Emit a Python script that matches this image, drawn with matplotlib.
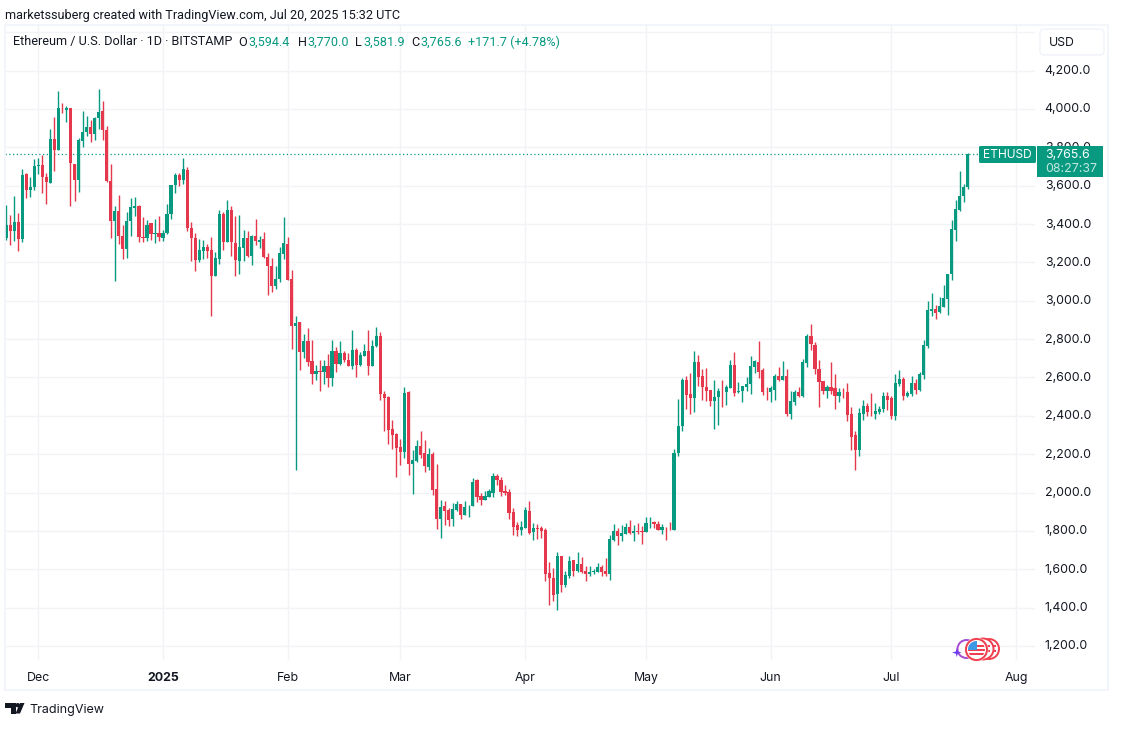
import matplotlib
matplotlib.use("Agg")
import matplotlib.pyplot as plt
import matplotlib.dates as mdates
from matplotlib.patches import Circle, FancyBboxPatch, Polygon, Rectangle
from matplotlib.transforms import ScaledTranslation
import pandas as pd

W, H = 1124, 730
plt.rcParams['font.family'] = ['Inter', 'DejaVu Sans']

# daily candles, first one is 2024-11-23
opens = [
    3327, 3397, 3362, 3413, 3322, 3663, 3576, 3592, 3705, 3710,
    3645, 3612, 3844, 3784, 4002, 3993, 4007, 3715, 3628, 3831,
    3878, 3908, 3868, 3955, 3991, 3892, 3626, 3418, 3470, 3340,
    3272, 3414, 3486, 3496, 3329, 3326, 3404, 3348, 3355, 3326,
    3352, 3451, 3605, 3658, 3632, 3684, 3380, 3327, 3214, 3261,
    3282, 3264, 3131, 3219, 3454, 3304, 3475, 3301, 3205, 3273,
    3327, 3235, 3339, 3304, 3322, 3230, 3183, 3075, 3113, 3244,
    3297, 3113, 2866, 2887, 2731, 2792, 2686, 2620, 2634, 2627,
    2661, 2599, 2740, 2672, 2727, 2693, 2658, 2745, 2667, 2714,
    2738, 2658, 2762, 2818, 2515, 2498, 2331, 2306, 2237, 2213,
    2522, 2147, 2164, 2244, 2206, 2134, 2202, 2018, 1863, 1928,
    1910, 1863, 1910, 1940, 1884, 1928, 1928, 2063, 1984, 1962,
    1979, 1997, 2084, 2066, 2009, 2005, 1899, 1830, 1805, 1816,
    1905, 1792, 1816, 1816, 1805, 1580, 1555, 1472, 1670, 1519,
    1566, 1646, 1592, 1628, 1592, 1576, 1586, 1588, 1613, 1592,
    1576, 1753, 1797, 1771, 1786, 1819, 1790, 1799, 1799, 1792,
    1844, 1844, 1837, 1805, 1821, 1821, 1805, 2206, 2345, 2588,
    2515, 2491, 2680, 2609, 2550, 2536, 2475, 2496, 2531, 2522,
    2546, 2666, 2524, 2527, 2550, 2564, 2657, 2682, 2637, 2531,
    2525, 2536, 2609, 2588, 2609, 2411, 2473, 2524, 2505, 2678,
    2817, 2770, 2644, 2583, 2531, 2550, 2545, 2505, 2525, 2525,
    2411, 2301, 2223, 2411, 2452, 2421, 2412, 2421, 2435, 2505,
    2492, 2400, 2565, 2593, 2505, 2515, 2571, 2536, 2614, 2765,
    2948, 2958, 2939, 2970, 3010, 3139, 3367, 3474, 3544, 3594.4,
]
highs = [
    3501, 3449, 3548, 3458, 3689, 3665, 3645, 3741, 3745, 3762,
    3666, 3896, 3958, 4096, 4031, 4017, 4007, 3715, 3849, 3988,
    3965, 3944, 3958, 4106, 4043, 3910, 3715, 3496, 3553, 3397,
    3463, 3538, 3543, 3501, 3437, 3423, 3406, 3426, 3444, 3371,
    3506, 3604, 3666, 3666, 3745, 3696, 3410, 3353, 3322, 3318,
    3297, 3332, 3256, 3475, 3461, 3527, 3496, 3443, 3449, 3370,
    3363, 3344, 3428, 3336, 3360, 3249, 3223, 3183, 3280, 3436,
    3332, 3162, 2922, 2891, 2828, 2859, 2797, 2665, 2693, 2693,
    2724, 2797, 2759, 2792, 2738, 2727, 2849, 2755, 2733, 2776,
    2846, 2797, 2865, 2839, 2531, 2505, 2379, 2313, 2279, 2550,
    2527, 2223, 2272, 2322, 2272, 2232, 2214, 2150, 1962, 1957,
    1919, 1948, 1954, 1940, 1954, 1936, 2074, 2070, 2000, 2009,
    2019, 2101, 2097, 2080, 2040, 2018, 1918, 1849, 1852, 1927,
    1957, 1840, 1837, 1826, 1814, 1637, 1606, 1689, 1670, 1592,
    1670, 1649, 1689, 1663, 1618, 1618, 1600, 1632, 1623, 1658,
    1779, 1837, 1814, 1832, 1840, 1858, 1832, 1840, 1826, 1872,
    1872, 1852, 1852, 1837, 1823, 1849, 2226, 2487, 2597, 2609,
    2623, 2737, 2717, 2644, 2649, 2536, 2588, 2545, 2588, 2562,
    2692, 2734, 2576, 2557, 2605, 2713, 2692, 2791, 2649, 2550,
    2553, 2619, 2657, 2684, 2644, 2531, 2536, 2550, 2696, 2828,
    2880, 2784, 2689, 2583, 2562, 2682, 2619, 2545, 2545, 2571,
    2445, 2319, 2440, 2480, 2466, 2518, 2466, 2452, 2524, 2524,
    2505, 2619, 2640, 2602, 2532, 2609, 2593, 2628, 2797, 2998,
    3040, 2979, 3019, 3082, 3139, 3422, 3523, 3678, 3610, 3770.0,
]
lows = [
    3319, 3289, 3310, 3258, 3305, 3534, 3541, 3576, 3663, 3562,
    3503, 3612, 3675, 3784, 3979, 3930, 3492, 3519, 3565, 3800,
    3857, 3826, 3837, 3896, 3840, 3618, 3326, 3101, 3296, 3220,
    3223, 3336, 3440, 3305, 3305, 3313, 3319, 3301, 3310, 3313,
    3350, 3426, 3562, 3597, 3611, 3362, 3209, 3157, 3200, 3218,
    3223, 2922, 3127, 3190, 3266, 3304, 3231, 3127, 3141, 3205,
    3226, 3186, 3292, 3273, 3224, 3028, 3044, 3061, 3096, 3218,
    3106, 2750, 2119, 2637, 2703, 2658, 2567, 2588, 2528, 2567,
    2550, 2554, 2627, 2667, 2682, 2658, 2644, 2602, 2658, 2710,
    2614, 2658, 2759, 2484, 2319, 2254, 2226, 2079, 2145, 2178,
    2093, 1994, 2157, 2180, 2105, 2115, 1988, 1811, 1761, 1832,
    1827, 1827, 1905, 1863, 1881, 1875, 1928, 1953, 1936, 1962,
    1979, 1976, 2040, 1984, 1988, 1863, 1779, 1771, 1779, 1816,
    1785, 1753, 1757, 1762, 1541, 1414, 1437, 1388, 1479, 1510,
    1553, 1566, 1588, 1583, 1541, 1567, 1576, 1586, 1567, 1567,
    1545, 1748, 1727, 1745, 1783, 1783, 1748, 1783, 1732, 1792,
    1816, 1816, 1805, 1785, 1753, 1805, 1805, 2188, 2319, 2437,
    2411, 2418, 2553, 2480, 2475, 2449, 2329, 2353, 2444, 2458,
    2546, 2501, 2518, 2470, 2527, 2515, 2623, 2597, 2510, 2484,
    2470, 2480, 2584, 2588, 2397, 2386, 2458, 2498, 2498, 2657,
    2744, 2619, 2444, 2515, 2491, 2515, 2437, 2470, 2491, 2371,
    2220, 2119, 2193, 2379, 2400, 2397, 2386, 2411, 2418, 2432,
    2386, 2376, 2557, 2480, 2496, 2505, 2515, 2527, 2593, 2755,
    2918, 2906, 2936, 2965, 2927, 3106, 3313, 3466, 3513, 3581.9,
]
closes = [
    3397, 3362, 3411, 3322, 3658, 3576, 3593, 3705, 3708, 3644,
    3618, 3844, 3788, 4007, 3998, 4007, 3718, 3628, 3837, 3882,
    3908, 3868, 3955, 3984, 3889, 3623, 3414, 3470, 3336, 3272,
    3418, 3491, 3496, 3331, 3326, 3397, 3347, 3355, 3331, 3355,
    3453, 3604, 3658, 3632, 3689, 3380, 3327, 3214, 3266, 3282,
    3261, 3131, 3223, 3454, 3304, 3475, 3304, 3211, 3282, 3327,
    3235, 3339, 3310, 3318, 3226, 3179, 3075, 3115, 3249, 3301,
    3110, 2866, 2884, 2731, 2792, 2682, 2620, 2635, 2630, 2661,
    2599, 2740, 2672, 2727, 2689, 2658, 2745, 2667, 2719, 2738,
    2658, 2766, 2818, 2512, 2491, 2327, 2301, 2233, 2213, 2518,
    2147, 2169, 2244, 2197, 2140, 2202, 2014, 1863, 1924, 1905,
    1858, 1914, 1940, 1884, 1926, 1931, 2056, 1976, 1962, 1983,
    2009, 2084, 2063, 2002, 1997, 1896, 1823, 1805, 1819, 1910,
    1788, 1816, 1812, 1800, 1576, 1552, 1467, 1670, 1519, 1571,
    1644, 1592, 1628, 1588, 1576, 1586, 1592, 1611, 1586, 1574,
    1759, 1799, 1771, 1790, 1819, 1790, 1799, 1795, 1795, 1840,
    1847, 1835, 1805, 1823, 1818, 1818, 2206, 2348, 2588, 2510,
    2491, 2682, 2605, 2548, 2532, 2475, 2498, 2531, 2527, 2550,
    2666, 2518, 2531, 2553, 2567, 2661, 2684, 2631, 2525, 2527,
    2543, 2609, 2588, 2609, 2411, 2477, 2525, 2501, 2682, 2817,
    2772, 2644, 2579, 2532, 2550, 2527, 2505, 2525, 2522, 2405,
    2292, 2223, 2414, 2452, 2418, 2418, 2426, 2435, 2505, 2484,
    2400, 2571, 2593, 2505, 2518, 2571, 2536, 2619, 2770, 2951,
    2958, 2936, 2974, 3014, 3139, 3375, 3480, 3547, 3594, 3765.6,
]
start_date = "2024-11-23"
y_ticks = [1200, 1400, 1600, 1800, 2000, 2200, 2400, 2600, 2800, 3000,
           3200, 3400, 3600, 3800, 4000, 4200, 4400]
x_tick_dates = ["2024-12-01", "2025-01-01", "2025-02-01", "2025-03-01", "2025-04-01",
                "2025-05-01", "2025-06-01", "2025-07-01", "2025-08-01"]
x_tick_labels = ["Dec", "2025", "Feb", "Mar", "Apr", "May", "Jun", "Jul", "Aug"]
last_price = 3765.6

UP = "#089981"
DOWN = "#e5384c"
GRID = "#f2f3f7"
INK = "#131722"
FS = 8.9
HEAD = "Roboto"
HEAD_FS = 9.05

fig = plt.figure(figsize=(W / 100, H / 100), dpi=100, facecolor="white")

# price pane spans px 5..1035 horizontally, 25..660 vertically
ax = fig.add_axes([5 / W, 1 - 660 / H, 1030 / W, 635 / H])
dates = mdates.date2num(pd.date_range(start_date, periods=len(opens), freq="D"))
colors = [UP if c >= o else DOWN for o, c in zip(opens, closes)]

ax.vlines(dates, lows, highs, colors=colors, linewidth=1.0, zorder=3)
bottoms = [min(o, c) for o, c in zip(opens, closes)]
sizes = [max(abs(c - o), 4) for o, c in zip(opens, closes)]
ax.bar(dates, sizes, bottom=bottoms, width=0.8, color=colors, linewidth=0, zorder=4)

ax.axhline(last_price, color=UP, lw=0.9, ls=(0, (1, 2)), zorder=2)

x0 = mdates.date2num(pd.Timestamp(start_date))
ax.set_xlim(x0 - 0.275, x0 + 255.69)
ax.set_ylim(1127, 4437.7)

ax.set_yticks(y_ticks)
ax.set_yticklabels([f"{v:,.1f}" if v < 4400 else "" for v in y_ticks])
ax.yaxis.tick_right()
ax.tick_params(axis="y", length=0, pad=7, labelsize=FS, labelcolor=INK)
up_1px = ScaledTranslation(0, 1 / 100, fig.dpi_scale_trans)
for lab in ax.get_yticklabels():
    lab.set_transform(lab.get_transform() + up_1px)
ax.set_xticks(mdates.date2num(pd.to_datetime(x_tick_dates)))
ax.set_xticklabels(x_tick_labels)
ax.tick_params(axis="x", length=0, pad=8.8, labelsize=FS, labelcolor=INK)
ax.get_xticklabels()[1].set_fontweight("bold")
ax.grid(True, color=GRID, lw=1, zorder=0)
ax.set_axisbelow(True)
for s in ax.spines.values():
    s.set_visible(False)

# overlay in pixel coords for the chrome around the chart
ov = fig.add_axes([0, 0, 1, 1], facecolor="none")
ov.set_xlim(0, W)
ov.set_ylim(H, 0)
ov.axis("off")

ov.add_patch(Rectangle((4.5, 25), 1103.5, 665, fill=False, ec="#f0f3fa", lw=1.2))


def txt(x, y, s, color=INK, size=FS, **kw):
    ov.text(x, y, s, color=color, fontsize=size, va="center", ha="left", **kw)


txt(5, 15.5, "marketssuberg created with TradingView.com, Jul 20, 2025 15:32 UTC", size=HEAD_FS, family=HEAD)
txt(13, 42, "Ethereum / U.S. Dollar · 1D · BITSTAMP", size=HEAD_FS, family=HEAD)
for x, s in [(238, "O"), (298, "H"), (355.5, "L"), (411, "C")]:
    txt(x, 42, s, size=HEAD_FS, family=HEAD)
for x, s in [(248, "3,594.4"), (307.5, "3,770.0"), (363, "3,581.9"), (420, "3,765.6"),
             (468, "+171.7 (+4.78%)")]:
    txt(x, 42, s, color=UP, size=HEAD_FS, family=HEAD)

ov.add_patch(FancyBboxPatch((1042, 31), 60, 22, boxstyle="round,pad=2,rounding_size=4",
                            fc="white", ec="#f0f3fa", lw=1))
txt(1049, 43, "USD", size=8.8)

# last price tags
ov.add_patch(FancyBboxPatch((980, 147), 55, 15, boxstyle="round,pad=1,rounding_size=1.5",
                            fc=UP, ec="none"))
ov.add_patch(Rectangle((1037, 146), 66, 31, fc=UP, ec="none"))
txt(983, 155.5, "ETHUSD", color="white", size=8.6)
txt(1045, 155, "3,765.6", color="white")
txt(1045, 169.5, "08:27:37", color="#c4e8e0")

# small flag and assistant icons, bottom right
ov.add_patch(Circle((966.5, 649), 9, fc="white", ec="#a44bd0", lw=1.4))
ov.add_patch(Polygon([(952, 652.5), (955.8, 651.5), (956.8, 648), (957.8, 651.5), (961.5, 652.5),
                      (957.8, 653.7), (956.8, 657), (955.8, 653.7)], fc="#6b3cf0", ec="none"))
for cx, r in [(989, 10), (983, 10.5)]:
    ov.add_patch(Circle((cx, 649), r, fc="white", ec="#f0404f", lw=1.4))
    ov.add_patch(Rectangle((cx - 2, 645), 9, 2, fc="#f0404f", ec="none"))
    ov.add_patch(Rectangle((cx - 2, 650), 9, 2, fc="#f0404f", ec="none"))
ov.add_patch(Circle((976.5, 649.5), 12, fc="#f9dfe1", ec="none"))
ov.add_patch(Circle((976.5, 649.5), 10.5, fc="white", ec="#f0404f", lw=1.4))
inner = Circle((976.5, 649.5), 8.5, transform=ov.transData)
for yy in [645, 649, 653]:
    ov.add_patch(Rectangle((967, yy), 19, 2, fc="#f0404f", ec="none", clip_path=inner))
ov.add_patch(Rectangle((967, 640), 10, 9.5, fc="#3d98e6", ec="none", clip_path=inner))

# TradingView logo
ov.add_patch(Polygon([(5, 703), (16, 703), (16, 713.5), (11, 713.5), (11, 708), (5, 708)], fc=INK, ec="none"))
ov.add_patch(Circle((17.7, 705.2), 2.2, fc=INK, ec="none"))
ov.add_patch(Polygon([(20, 703), (24.5, 703), (20, 713.5), (15.5, 713.5)], fc=INK, ec="none"))
txt(29, 710, "TradingView", size=9.0)

fig.savefig("out.png", dpi=100)
